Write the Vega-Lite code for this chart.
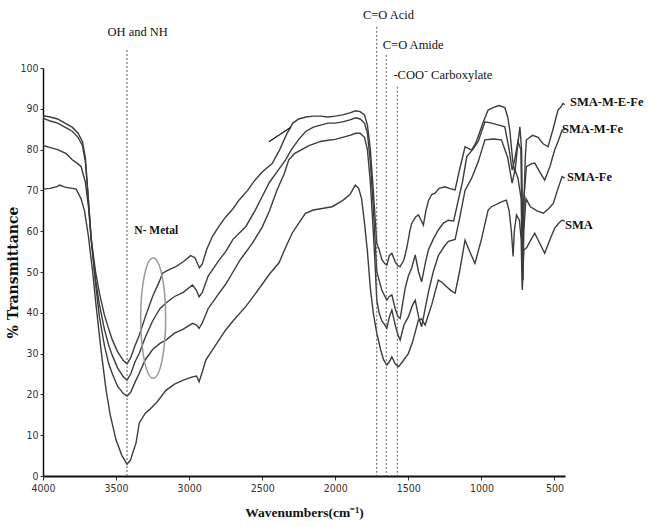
{
  "$schema": "https://vega.github.io/schema/vega-lite/v6.json",
  "width": 522,
  "height": 408,
  "autosize": {"type": "none"},
  "padding": {"left": 43, "top": 68, "right": 83, "bottom": 50},
  "background": "white",
  "config": {"view": {"stroke": null}},
  "datasets": {
    "spectra": [
      {"s":"SMA-M-E-Fe","w":4000,"t":88.3},{"s":"SMA-M-E-Fe","w":3950,"t":88},{"s":"SMA-M-E-Fe","w":3900,"t":87.5},{"s":"SMA-M-E-Fe","w":3850,"t":86.5},{"s":"SMA-M-E-Fe","w":3800,"t":85.5},{"s":"SMA-M-E-Fe","w":3760,"t":84},{"s":"SMA-M-E-Fe","w":3730,"t":82},{"s":"SMA-M-E-Fe","w":3710,"t":78},{"s":"SMA-M-E-Fe","w":3690,"t":68},{"s":"SMA-M-E-Fe","w":3670,"t":58},{"s":"SMA-M-E-Fe","w":3640,"t":50},{"s":"SMA-M-E-Fe","w":3614,"t":44.8},{"s":"SMA-M-E-Fe","w":3580,"t":39.5},{"s":"SMA-M-E-Fe","w":3550,"t":36},{"s":"SMA-M-E-Fe","w":3525,"t":33.3},{"s":"SMA-M-E-Fe","w":3490,"t":30.5},{"s":"SMA-M-E-Fe","w":3450,"t":28.3},{"s":"SMA-M-E-Fe","w":3425,"t":27.5},{"s":"SMA-M-E-Fe","w":3400,"t":29},{"s":"SMA-M-E-Fe","w":3370,"t":32},{"s":"SMA-M-E-Fe","w":3341,"t":34.5},{"s":"SMA-M-E-Fe","w":3300,"t":39},{"s":"SMA-M-E-Fe","w":3250,"t":44},{"s":"SMA-M-E-Fe","w":3200,"t":48},{"s":"SMA-M-E-Fe","w":3182,"t":49.7},{"s":"SMA-M-E-Fe","w":3140,"t":50.5},{"s":"SMA-M-E-Fe","w":3091,"t":51.3},{"s":"SMA-M-E-Fe","w":3040,"t":52.5},{"s":"SMA-M-E-Fe","w":2990,"t":54},{"s":"SMA-M-E-Fe","w":2960,"t":53.5},{"s":"SMA-M-E-Fe","w":2930,"t":51},{"s":"SMA-M-E-Fe","w":2910,"t":52},{"s":"SMA-M-E-Fe","w":2880,"t":55.5},{"s":"SMA-M-E-Fe","w":2841,"t":58.7},{"s":"SMA-M-E-Fe","w":2800,"t":61},{"s":"SMA-M-E-Fe","w":2750,"t":63.5},{"s":"SMA-M-E-Fe","w":2700,"t":65.5},{"s":"SMA-M-E-Fe","w":2659,"t":67.6},{"s":"SMA-M-E-Fe","w":2600,"t":70},{"s":"SMA-M-E-Fe","w":2550,"t":72.5},{"s":"SMA-M-E-Fe","w":2500,"t":74.5},{"s":"SMA-M-E-Fe","w":2432,"t":76.6},{"s":"SMA-M-E-Fe","w":2380,"t":80},{"s":"SMA-M-E-Fe","w":2330,"t":84},{"s":"SMA-M-E-Fe","w":2290,"t":86.5},{"s":"SMA-M-E-Fe","w":2250,"t":87.5},{"s":"SMA-M-E-Fe","w":2200,"t":88},{"s":"SMA-M-E-Fe","w":2150,"t":88.2},{"s":"SMA-M-E-Fe","w":2100,"t":88.2},{"s":"SMA-M-E-Fe","w":2050,"t":88},{"s":"SMA-M-E-Fe","w":2000,"t":88.2},{"s":"SMA-M-E-Fe","w":1950,"t":88.5},{"s":"SMA-M-E-Fe","w":1900,"t":89},{"s":"SMA-M-E-Fe","w":1860,"t":89.5},{"s":"SMA-M-E-Fe","w":1830,"t":89.3},{"s":"SMA-M-E-Fe","w":1800,"t":88.5},{"s":"SMA-M-E-Fe","w":1780,"t":86},{"s":"SMA-M-E-Fe","w":1760,"t":80},{"s":"SMA-M-E-Fe","w":1740,"t":70},{"s":"SMA-M-E-Fe","w":1725,"t":62},{"s":"SMA-M-E-Fe","w":1716,"t":57},{"s":"SMA-M-E-Fe","w":1700,"t":55.5},{"s":"SMA-M-E-Fe","w":1681,"t":53},{"s":"SMA-M-E-Fe","w":1660,"t":52},{"s":"SMA-M-E-Fe","w":1647,"t":51.7},{"s":"SMA-M-E-Fe","w":1630,"t":54},{"s":"SMA-M-E-Fe","w":1613,"t":54.6},{"s":"SMA-M-E-Fe","w":1590,"t":52.5},{"s":"SMA-M-E-Fe","w":1570,"t":51.5},{"s":"SMA-M-E-Fe","w":1556,"t":51.3},{"s":"SMA-M-E-Fe","w":1530,"t":53},{"s":"SMA-M-E-Fe","w":1510,"t":56},{"s":"SMA-M-E-Fe","w":1490,"t":60},{"s":"SMA-M-E-Fe","w":1477,"t":61.9},{"s":"SMA-M-E-Fe","w":1450,"t":63.5},{"s":"SMA-M-E-Fe","w":1431,"t":64},{"s":"SMA-M-E-Fe","w":1410,"t":62.5},{"s":"SMA-M-E-Fe","w":1397,"t":61.5},{"s":"SMA-M-E-Fe","w":1380,"t":65},{"s":"SMA-M-E-Fe","w":1363,"t":67.4},{"s":"SMA-M-E-Fe","w":1340,"t":69},{"s":"SMA-M-E-Fe","w":1317,"t":69.3},{"s":"SMA-M-E-Fe","w":1290,"t":70.5},{"s":"SMA-M-E-Fe","w":1249,"t":70.9},{"s":"SMA-M-E-Fe","w":1220,"t":70.5},{"s":"SMA-M-E-Fe","w":1180,"t":70.1},{"s":"SMA-M-E-Fe","w":1150,"t":75},{"s":"SMA-M-E-Fe","w":1112,"t":80.7},{"s":"SMA-M-E-Fe","w":1090,"t":80.3},{"s":"SMA-M-E-Fe","w":1067,"t":79.9},{"s":"SMA-M-E-Fe","w":1040,"t":81.5},{"s":"SMA-M-E-Fe","w":1022,"t":83.2},{"s":"SMA-M-E-Fe","w":990,"t":86.5},{"s":"SMA-M-E-Fe","w":954,"t":89.7},{"s":"SMA-M-E-Fe","w":920,"t":90.3},{"s":"SMA-M-E-Fe","w":880,"t":90.8},{"s":"SMA-M-E-Fe","w":840,"t":90.3},{"s":"SMA-M-E-Fe","w":820,"t":88},{"s":"SMA-M-E-Fe","w":806,"t":84.8},{"s":"SMA-M-E-Fe","w":785,"t":77},{"s":"SMA-M-E-Fe","w":771,"t":74.2},{"s":"SMA-M-E-Fe","w":755,"t":80},{"s":"SMA-M-E-Fe","w":737,"t":85.6},{"s":"SMA-M-E-Fe","w":725,"t":80},{"s":"SMA-M-E-Fe","w":718,"t":60},{"s":"SMA-M-E-Fe","w":715,"t":57.8},{"s":"SMA-M-E-Fe","w":710,"t":65},{"s":"SMA-M-E-Fe","w":700,"t":78},{"s":"SMA-M-E-Fe","w":692,"t":82.4},{"s":"SMA-M-E-Fe","w":650,"t":83.5},{"s":"SMA-M-E-Fe","w":612,"t":83},{"s":"SMA-M-E-Fe","w":580,"t":81.5},{"s":"SMA-M-E-Fe","w":544,"t":80.7},{"s":"SMA-M-E-Fe","w":510,"t":85},{"s":"SMA-M-E-Fe","w":476,"t":89.7},{"s":"SMA-M-E-Fe","w":455,"t":90.5},{"s":"SMA-M-E-Fe","w":442,"t":91.3},{"s":"SMA-M-E-Fe","w":430,"t":91},

      {"s":"SMA-M-Fe","w":4000,"t":87.7},{"s":"SMA-M-Fe","w":3950,"t":87},{"s":"SMA-M-Fe","w":3900,"t":86.5},{"s":"SMA-M-Fe","w":3850,"t":85.5},{"s":"SMA-M-Fe","w":3800,"t":84.5},{"s":"SMA-M-Fe","w":3760,"t":83},{"s":"SMA-M-Fe","w":3730,"t":81},{"s":"SMA-M-Fe","w":3710,"t":77},{"s":"SMA-M-Fe","w":3690,"t":68},{"s":"SMA-M-Fe","w":3670,"t":58},{"s":"SMA-M-Fe","w":3640,"t":48},{"s":"SMA-M-Fe","w":3614,"t":42},{"s":"SMA-M-Fe","w":3580,"t":36},{"s":"SMA-M-Fe","w":3550,"t":32},{"s":"SMA-M-Fe","w":3525,"t":29.5},{"s":"SMA-M-Fe","w":3490,"t":26.5},{"s":"SMA-M-Fe","w":3450,"t":24.3},{"s":"SMA-M-Fe","w":3425,"t":23.5},{"s":"SMA-M-Fe","w":3400,"t":25},{"s":"SMA-M-Fe","w":3370,"t":28},{"s":"SMA-M-Fe","w":3341,"t":30.1},{"s":"SMA-M-Fe","w":3300,"t":34},{"s":"SMA-M-Fe","w":3250,"t":38},{"s":"SMA-M-Fe","w":3200,"t":41},{"s":"SMA-M-Fe","w":3159,"t":42.4},{"s":"SMA-M-Fe","w":3100,"t":44},{"s":"SMA-M-Fe","w":3040,"t":45},{"s":"SMA-M-Fe","w":2977,"t":46.8},{"s":"SMA-M-Fe","w":2950,"t":45.5},{"s":"SMA-M-Fe","w":2932,"t":43.9},{"s":"SMA-M-Fe","w":2910,"t":45},{"s":"SMA-M-Fe","w":2870,"t":49},{"s":"SMA-M-Fe","w":2795,"t":52.9},{"s":"SMA-M-Fe","w":2750,"t":55},{"s":"SMA-M-Fe","w":2700,"t":58},{"s":"SMA-M-Fe","w":2613,"t":61.1},{"s":"SMA-M-Fe","w":2550,"t":65},{"s":"SMA-M-Fe","w":2500,"t":68.5},{"s":"SMA-M-Fe","w":2450,"t":72},{"s":"SMA-M-Fe","w":2400,"t":74.5},{"s":"SMA-M-Fe","w":2340,"t":77.5},{"s":"SMA-M-Fe","w":2300,"t":80},{"s":"SMA-M-Fe","w":2250,"t":82.5},{"s":"SMA-M-Fe","w":2200,"t":84.5},{"s":"SMA-M-Fe","w":2150,"t":85.5},{"s":"SMA-M-Fe","w":2100,"t":86},{"s":"SMA-M-Fe","w":2050,"t":86.5},{"s":"SMA-M-Fe","w":2000,"t":86.5},{"s":"SMA-M-Fe","w":1950,"t":86.8},{"s":"SMA-M-Fe","w":1900,"t":87.3},{"s":"SMA-M-Fe","w":1860,"t":87.8},{"s":"SMA-M-Fe","w":1830,"t":87.5},{"s":"SMA-M-Fe","w":1800,"t":86.5},{"s":"SMA-M-Fe","w":1780,"t":84},{"s":"SMA-M-Fe","w":1760,"t":77},{"s":"SMA-M-Fe","w":1740,"t":66},{"s":"SMA-M-Fe","w":1725,"t":56},{"s":"SMA-M-Fe","w":1716,"t":50},{"s":"SMA-M-Fe","w":1700,"t":48},{"s":"SMA-M-Fe","w":1681,"t":45.5},{"s":"SMA-M-Fe","w":1660,"t":44},{"s":"SMA-M-Fe","w":1647,"t":43.1},{"s":"SMA-M-Fe","w":1630,"t":44},{"s":"SMA-M-Fe","w":1613,"t":44.4},{"s":"SMA-M-Fe","w":1590,"t":41},{"s":"SMA-M-Fe","w":1570,"t":39},{"s":"SMA-M-Fe","w":1556,"t":38.6},{"s":"SMA-M-Fe","w":1540,"t":42},{"s":"SMA-M-Fe","w":1522,"t":46},{"s":"SMA-M-Fe","w":1500,"t":49},{"s":"SMA-M-Fe","w":1477,"t":51},{"s":"SMA-M-Fe","w":1453,"t":54.2},{"s":"SMA-M-Fe","w":1430,"t":50},{"s":"SMA-M-Fe","w":1409,"t":47.6},{"s":"SMA-M-Fe","w":1385,"t":52},{"s":"SMA-M-Fe","w":1363,"t":55.4},{"s":"SMA-M-Fe","w":1330,"t":58},{"s":"SMA-M-Fe","w":1295,"t":60.3},{"s":"SMA-M-Fe","w":1260,"t":62},{"s":"SMA-M-Fe","w":1228,"t":62.7},{"s":"SMA-M-Fe","w":1190,"t":62.5},{"s":"SMA-M-Fe","w":1158,"t":67.6},{"s":"SMA-M-Fe","w":1130,"t":72},{"s":"SMA-M-Fe","w":1100,"t":78.3},{"s":"SMA-M-Fe","w":1060,"t":80},{"s":"SMA-M-Fe","w":1022,"t":82},{"s":"SMA-M-Fe","w":976,"t":86.8},{"s":"SMA-M-Fe","w":930,"t":86.5},{"s":"SMA-M-Fe","w":880,"t":86},{"s":"SMA-M-Fe","w":840,"t":85.6},{"s":"SMA-M-Fe","w":810,"t":80},{"s":"SMA-M-Fe","w":790,"t":75},{"s":"SMA-M-Fe","w":775,"t":77},{"s":"SMA-M-Fe","w":750,"t":82},{"s":"SMA-M-Fe","w":730,"t":80},{"s":"SMA-M-Fe","w":720,"t":55},{"s":"SMA-M-Fe","w":715,"t":53},{"s":"SMA-M-Fe","w":710,"t":68},{"s":"SMA-M-Fe","w":692,"t":75.8},{"s":"SMA-M-Fe","w":660,"t":76.5},{"s":"SMA-M-Fe","w":635,"t":76.7},{"s":"SMA-M-Fe","w":600,"t":74.5},{"s":"SMA-M-Fe","w":567,"t":72.5},{"s":"SMA-M-Fe","w":530,"t":76},{"s":"SMA-M-Fe","w":499,"t":79.9},{"s":"SMA-M-Fe","w":470,"t":82.5},{"s":"SMA-M-Fe","w":448,"t":84.8},{"s":"SMA-M-Fe","w":430,"t":85},

      {"s":"SMA-Fe","w":4000,"t":81},{"s":"SMA-Fe","w":3950,"t":80.5},{"s":"SMA-Fe","w":3900,"t":80},{"s":"SMA-Fe","w":3841,"t":79},{"s":"SMA-Fe","w":3800,"t":77.5},{"s":"SMA-Fe","w":3760,"t":76.5},{"s":"SMA-Fe","w":3739,"t":75.8},{"s":"SMA-Fe","w":3710,"t":72},{"s":"SMA-Fe","w":3689,"t":66},{"s":"SMA-Fe","w":3670,"t":58},{"s":"SMA-Fe","w":3640,"t":47},{"s":"SMA-Fe","w":3614,"t":39},{"s":"SMA-Fe","w":3580,"t":32},{"s":"SMA-Fe","w":3550,"t":27.5},{"s":"SMA-Fe","w":3525,"t":25},{"s":"SMA-Fe","w":3490,"t":22},{"s":"SMA-Fe","w":3450,"t":20.2},{"s":"SMA-Fe","w":3425,"t":19.6},{"s":"SMA-Fe","w":3400,"t":20.5},{"s":"SMA-Fe","w":3370,"t":23},{"s":"SMA-Fe","w":3341,"t":25.2},{"s":"SMA-Fe","w":3300,"t":28.5},{"s":"SMA-Fe","w":3250,"t":31},{"s":"SMA-Fe","w":3200,"t":32.5},{"s":"SMA-Fe","w":3159,"t":33.3},{"s":"SMA-Fe","w":3100,"t":35},{"s":"SMA-Fe","w":3040,"t":36},{"s":"SMA-Fe","w":2977,"t":37.4},{"s":"SMA-Fe","w":2950,"t":37},{"s":"SMA-Fe","w":2932,"t":36.2},{"s":"SMA-Fe","w":2910,"t":37.5},{"s":"SMA-Fe","w":2870,"t":41},{"s":"SMA-Fe","w":2795,"t":44.8},{"s":"SMA-Fe","w":2750,"t":47},{"s":"SMA-Fe","w":2700,"t":50},{"s":"SMA-Fe","w":2650,"t":53},{"s":"SMA-Fe","w":2568,"t":57},{"s":"SMA-Fe","w":2500,"t":61},{"s":"SMA-Fe","w":2450,"t":65},{"s":"SMA-Fe","w":2400,"t":70},{"s":"SMA-Fe","w":2350,"t":74},{"s":"SMA-Fe","w":2318,"t":77.5},{"s":"SMA-Fe","w":2280,"t":79},{"s":"SMA-Fe","w":2230,"t":80},{"s":"SMA-Fe","w":2180,"t":81},{"s":"SMA-Fe","w":2100,"t":82},{"s":"SMA-Fe","w":2050,"t":82.3},{"s":"SMA-Fe","w":2000,"t":82.5},{"s":"SMA-Fe","w":1950,"t":83},{"s":"SMA-Fe","w":1900,"t":83.5},{"s":"SMA-Fe","w":1860,"t":84},{"s":"SMA-Fe","w":1830,"t":84},{"s":"SMA-Fe","w":1800,"t":83},{"s":"SMA-Fe","w":1780,"t":80},{"s":"SMA-Fe","w":1760,"t":72},{"s":"SMA-Fe","w":1740,"t":60},{"s":"SMA-Fe","w":1725,"t":50},{"s":"SMA-Fe","w":1716,"t":43.1},{"s":"SMA-Fe","w":1700,"t":40},{"s":"SMA-Fe","w":1681,"t":38},{"s":"SMA-Fe","w":1660,"t":37},{"s":"SMA-Fe","w":1647,"t":36.2},{"s":"SMA-Fe","w":1630,"t":39},{"s":"SMA-Fe","w":1613,"t":40.7},{"s":"SMA-Fe","w":1590,"t":37},{"s":"SMA-Fe","w":1570,"t":34.5},{"s":"SMA-Fe","w":1556,"t":33.3},{"s":"SMA-Fe","w":1530,"t":37},{"s":"SMA-Fe","w":1500,"t":39},{"s":"SMA-Fe","w":1470,"t":42},{"s":"SMA-Fe","w":1453,"t":43.1},{"s":"SMA-Fe","w":1430,"t":39},{"s":"SMA-Fe","w":1409,"t":36.6},{"s":"SMA-Fe","w":1385,"t":41},{"s":"SMA-Fe","w":1363,"t":45},{"s":"SMA-Fe","w":1330,"t":50},{"s":"SMA-Fe","w":1295,"t":54},{"s":"SMA-Fe","w":1260,"t":56},{"s":"SMA-Fe","w":1226,"t":57.5},{"s":"SMA-Fe","w":1180,"t":58},{"s":"SMA-Fe","w":1150,"t":63},{"s":"SMA-Fe","w":1112,"t":70},{"s":"SMA-Fe","w":1067,"t":73},{"s":"SMA-Fe","w":1022,"t":77},{"s":"SMA-Fe","w":976,"t":82.4},{"s":"SMA-Fe","w":920,"t":82.6},{"s":"SMA-Fe","w":863,"t":82.4},{"s":"SMA-Fe","w":820,"t":78},{"s":"SMA-Fe","w":790,"t":71.8},{"s":"SMA-Fe","w":770,"t":75},{"s":"SMA-Fe","w":750,"t":73},{"s":"SMA-Fe","w":728,"t":68},{"s":"SMA-Fe","w":720,"t":50},{"s":"SMA-Fe","w":715,"t":48},{"s":"SMA-Fe","w":710,"t":60},{"s":"SMA-Fe","w":695,"t":68},{"s":"SMA-Fe","w":665,"t":66},{"s":"SMA-Fe","w":620,"t":65},{"s":"SMA-Fe","w":576,"t":64.4},{"s":"SMA-Fe","w":540,"t":65.5},{"s":"SMA-Fe","w":508,"t":66.8},{"s":"SMA-Fe","w":480,"t":70},{"s":"SMA-Fe","w":448,"t":73.4},{"s":"SMA-Fe","w":430,"t":73},

      {"s":"SMA","w":4000,"t":70.3},{"s":"SMA","w":3950,"t":70.5},{"s":"SMA","w":3900,"t":71},{"s":"SMA","w":3887,"t":71.3},{"s":"SMA","w":3850,"t":70.8},{"s":"SMA","w":3800,"t":70.5},{"s":"SMA","w":3773,"t":70.3},{"s":"SMA","w":3740,"t":68},{"s":"SMA","w":3716,"t":65},{"s":"SMA","w":3690,"t":59},{"s":"SMA","w":3660,"t":50},{"s":"SMA","w":3636,"t":41.5},{"s":"SMA","w":3600,"t":30},{"s":"SMA","w":3568,"t":21},{"s":"SMA","w":3540,"t":15},{"s":"SMA","w":3500,"t":8.8},{"s":"SMA","w":3460,"t":5},{"s":"SMA","w":3425,"t":2.9},{"s":"SMA","w":3400,"t":4},{"s":"SMA","w":3387,"t":5.6},{"s":"SMA","w":3364,"t":8},{"s":"SMA","w":3341,"t":13},{"s":"SMA","w":3300,"t":15.4},{"s":"SMA","w":3273,"t":16.2},{"s":"SMA","w":3218,"t":18.2},{"s":"SMA","w":3159,"t":21},{"s":"SMA","w":3100,"t":22.5},{"s":"SMA","w":3040,"t":23.5},{"s":"SMA","w":2977,"t":24.3},{"s":"SMA","w":2950,"t":24.5},{"s":"SMA","w":2932,"t":23.1},{"s":"SMA","w":2910,"t":25.5},{"s":"SMA","w":2886,"t":28.4},{"s":"SMA","w":2820,"t":32},{"s":"SMA","w":2750,"t":35.8},{"s":"SMA","w":2700,"t":38},{"s":"SMA","w":2613,"t":41.5},{"s":"SMA","w":2550,"t":44.5},{"s":"SMA","w":2500,"t":47},{"s":"SMA","w":2450,"t":49.5},{"s":"SMA","w":2386,"t":52.2},{"s":"SMA","w":2340,"t":56},{"s":"SMA","w":2295,"t":59.5},{"s":"SMA","w":2250,"t":62},{"s":"SMA","w":2204,"t":64.4},{"s":"SMA","w":2150,"t":65.2},{"s":"SMA","w":2100,"t":65.5},{"s":"SMA","w":2022,"t":66},{"s":"SMA","w":1950,"t":67.5},{"s":"SMA","w":1900,"t":69},{"s":"SMA","w":1863,"t":71.3},{"s":"SMA","w":1840,"t":70.5},{"s":"SMA","w":1820,"t":68},{"s":"SMA","w":1800,"t":62},{"s":"SMA","w":1780,"t":55},{"s":"SMA","w":1760,"t":46},{"s":"SMA","w":1740,"t":40},{"s":"SMA","w":1716,"t":35},{"s":"SMA","w":1690,"t":31},{"s":"SMA","w":1670,"t":28.5},{"s":"SMA","w":1647,"t":27.2},{"s":"SMA","w":1630,"t":28},{"s":"SMA","w":1613,"t":29.2},{"s":"SMA","w":1590,"t":27.5},{"s":"SMA","w":1567,"t":26.8},{"s":"SMA","w":1540,"t":28},{"s":"SMA","w":1500,"t":30},{"s":"SMA","w":1470,"t":33},{"s":"SMA","w":1431,"t":38.2},{"s":"SMA","w":1410,"t":38.5},{"s":"SMA","w":1385,"t":37},{"s":"SMA","w":1340,"t":42},{"s":"SMA","w":1295,"t":48},{"s":"SMA","w":1270,"t":47.5},{"s":"SMA","w":1238,"t":46.4},{"s":"SMA","w":1210,"t":45.5},{"s":"SMA","w":1180,"t":44.8},{"s":"SMA","w":1150,"t":50},{"s":"SMA","w":1112,"t":57.8},{"s":"SMA","w":1080,"t":55},{"s":"SMA","w":1044,"t":52.1},{"s":"SMA","w":1000,"t":58},{"s":"SMA","w":954,"t":65.2},{"s":"SMA","w":931,"t":66},{"s":"SMA","w":863,"t":67.2},{"s":"SMA","w":829,"t":67.6},{"s":"SMA","w":810,"t":65},{"s":"SMA","w":795,"t":60},{"s":"SMA","w":783,"t":53.8},{"s":"SMA","w":775,"t":60},{"s":"SMA","w":760,"t":64},{"s":"SMA","w":740,"t":62.7},{"s":"SMA","w":728,"t":58},{"s":"SMA","w":722,"t":47},{"s":"SMA","w":720,"t":45.6},{"s":"SMA","w":716,"t":50},{"s":"SMA","w":710,"t":55.4},{"s":"SMA","w":690,"t":56},{"s":"SMA","w":660,"t":58},{"s":"SMA","w":635,"t":59.5},{"s":"SMA","w":600,"t":57},{"s":"SMA","w":567,"t":54.6},{"s":"SMA","w":530,"t":58},{"s":"SMA","w":499,"t":60.7},{"s":"SMA","w":470,"t":62},{"s":"SMA","w":448,"t":62.7},{"s":"SMA","w":430,"t":62.5}
    ],
    "bands": [
      {"band":"OH and NH","w":3425,"top":104.4},
      {"band":"C=O Acid","w":1716,"top":110.1},
      {"band":"C=O Amide","w":1651,"top":103.2},
      {"band":"-COO Carboxylate","w":1576,"top":95.4}
    ],
    "bandLabels": [
      {"label":"OH and NH","w":3559,"v":108.9},
      {"label":"C=O Acid","w":1811,"v":113},
      {"label":"C=O Amide","w":1675,"v":105.6},
      {"label":"-COO⁻ Carboxylate","w":1602,"v":98.3}
    ],
    "seriesLabels": [
      {"label":"SMA-M-E-Fe","w":394,"v":91.7},
      {"label":"SMA-M-Fe","w":449,"v":85},
      {"label":"SMA-Fe","w":415,"v":73.4},
      {"label":"SMA","w":428,"v":61.5}
    ],
    "metal": [{"label":"N- Metal","w":3375,"v":60.1,"cw":3246,"cv":38.7}],
    "pointer": [{"w1":2454,"v1":81.9,"w2":2304,"v2":85.5}]
  },
  "layer": [
    {
      "data": {"name": "spectra"},
      "mark": {"type": "line", "color": "#3c3c3c", "strokeWidth": 1.4, "clip": true},
      "encoding": {
        "x": {
          "field": "w", "type": "quantitative",
          "scale": {"domain": [428, 4000], "reverse": true, "nice": false, "zero": false},
          "axis": {
            "title": "Wavenumbers(cm⁻¹)",
            "values": [4000, 3500, 3000, 2500, 2000, 1500, 1000, 500],
            "format": "d",
            "grid": false, "labelFlush": false,
            "domainColor": "#111", "domainWidth": 2.2,
            "tickColor": "#333", "tickSize": 4, "tickWidth": 1,
            "labelFont": "Liberation Sans Narrow, DejaVu Sans Condensed, Arial Narrow, sans-serif",
            "labelFontSize": 10.5, "labelColor": "#333", "labelPadding": 3,
            "titleFont": "Liberation Serif, Times New Roman, serif",
            "titleFontSize": 13.5, "titleFontWeight": "bold", "titleColor": "#111",
            "titlePadding": 12
          }
        },
        "y": {
          "field": "t", "type": "quantitative",
          "scale": {"domain": [0, 100], "nice": false, "zero": false},
          "axis": {
            "title": "% Transmittance",
            "values": [0, 10, 20, 30, 40, 50, 60, 70, 80, 90, 100],
            "grid": false,
            "domainColor": "#111", "domainWidth": 1.5,
            "tickColor": "#333", "tickSize": 3, "tickWidth": 1,
            "labelFont": "Liberation Sans Narrow, DejaVu Sans Condensed, Arial Narrow, sans-serif",
            "labelFontSize": 10.5, "labelColor": "#333", "labelPadding": 2,
            "titleFont": "DejaVu Serif, Liberation Serif, serif",
            "titleFontSize": 14, "titleFontWeight": "bold", "titleColor": "#111",
            "titleAngle": -90, "titleX": -30, "titleY": 204,
            "titleAlign": "center", "titleBaseline": "middle"
          }
        },
        "detail": {"field": "s", "type": "nominal"}
      }
    },
    {
      "data": {"name": "bands"},
      "mark": {"type": "rule", "color": "#555", "strokeDash": [2, 2], "strokeWidth": 1},
      "encoding": {
        "x": {"field": "w", "type": "quantitative"},
        "y": {"field": "top", "type": "quantitative"},
        "y2": {"datum": 0}
      }
    },
    {
      "data": {"name": "bandLabels"},
      "mark": {"type": "text", "align": "left", "baseline": "middle", "font": "Liberation Serif, Times New Roman, serif", "fontSize": 12.5, "color": "#111"},
      "encoding": {
        "x": {"field": "w", "type": "quantitative"},
        "y": {"field": "v", "type": "quantitative"},
        "text": {"field": "label"}
      }
    },
    {
      "data": {"name": "seriesLabels"},
      "mark": {"type": "text", "align": "left", "baseline": "middle", "font": "Liberation Serif, Times New Roman, serif", "fontSize": 12.5, "fontWeight": "bold", "color": "#111"},
      "encoding": {
        "x": {"field": "w", "type": "quantitative"},
        "y": {"field": "v", "type": "quantitative"},
        "text": {"field": "label"}
      }
    },
    {
      "data": {"name": "metal"},
      "mark": {"type": "text", "align": "left", "baseline": "middle", "font": "Liberation Serif, Times New Roman, serif", "fontSize": 11.5, "fontWeight": "bold", "color": "#111"},
      "encoding": {
        "x": {"field": "w", "type": "quantitative"},
        "y": {"field": "v", "type": "quantitative"},
        "text": {"field": "label"}
      }
    },
    {
      "data": {"name": "metal"},
      "mark": {"type": "point", "shape": "M -0.208 0 A 0.208 1 0 1 0 0.208 0 A 0.208 1 0 1 0 -0.208 0 Z", "size": 14400, "filled": false, "stroke": "#999", "strokeWidth": 1.5, "opacity": 1},
      "encoding": {
        "x": {"field": "cw", "type": "quantitative"},
        "y": {"field": "cv", "type": "quantitative"}
      }
    },
    {
      "data": {"name": "pointer"},
      "mark": {"type": "rule", "color": "#111", "strokeWidth": 1.2},
      "encoding": {
        "x": {"field": "w1", "type": "quantitative"},
        "x2": {"field": "w2"},
        "y": {"field": "v1", "type": "quantitative"},
        "y2": {"field": "v2"}
      }
    }
  ]
}
